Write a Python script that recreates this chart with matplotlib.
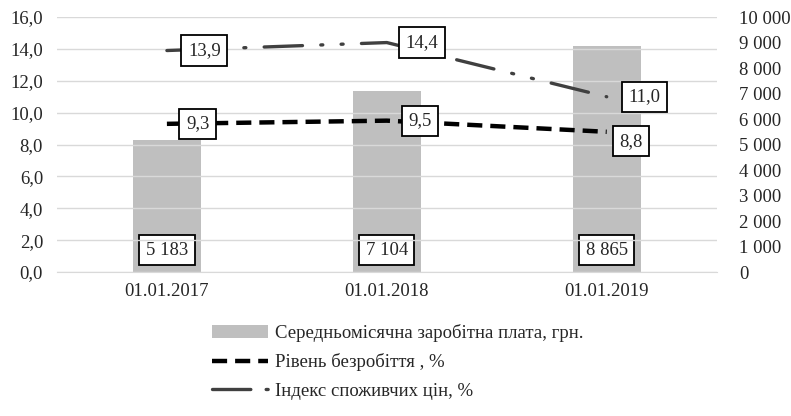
import matplotlib
matplotlib.use("Agg")
import matplotlib.pyplot as plt
from matplotlib.lines import Line2D
from matplotlib.ticker import FuncFormatter
import numpy as np

plt.rcParams["font.family"] = ["Liberation Serif", "DejaVu Serif"]

# ── Data ──────────────────────────────────────────────────────────────────────
dates = ["01.01.2017", "01.01.2018", "01.01.2019"]
wages = [5183, 7104, 8865]           # грн., right axis
unemployment = [9.3, 9.5, 8.8]       # %, left axis
cpi = [13.9, 14.4, 11.0]             # %, left axis

wage_label = "Середньомісячна заробітна плата, грн."
unemp_label = "Рівень безробіття , %"
cpi_label = "Індекс споживчих цін, %"

BAR_COLOR = "#bfbfbf"
CPI_COLOR = "#404040"
TEXT_COLOR = "#262626"
FS = 13.5

x = np.arange(len(dates))

fig = plt.figure(figsize=(7.91, 4.16), dpi=100)
ax = fig.add_axes([0.072, 0.346, 0.834, 0.613])
ax2 = ax.twinx()
ax.set_zorder(ax2.get_zorder() + 1)
ax.patch.set_visible(False)

# bars on the right axis
bars = ax2.bar(x, wages, width=0.31, color=BAR_COLOR, label=wage_label, zorder=2)
ax2.set_ylim(0, 10000)
ax2.set_yticks(np.arange(0, 10001, 1000))
ax2.yaxis.set_major_formatter(FuncFormatter(lambda v, p: f"{int(v):,}".replace(",", " ")))

box = dict(boxstyle="square,pad=0.35", fc="white", ec="black", lw=1.3)
for xi, w in zip(x, wages):
    ax2.text(xi, 850, f"{w:,}".replace(",", " "), ha="center", va="center",
             fontsize=FS, color=TEXT_COLOR, bbox=box, zorder=5)

# lines on the left axis
cpi_style = (0, (11.5, 5.5, 0.6, 5.5, 0.6, 5.5))
l_unemp, = ax.plot(x, unemployment, color="black", lw=3.2,
                   linestyle=(0, (3.4, 1.8)), label=unemp_label, zorder=3)
l_cpi, = ax.plot(x, cpi, color=CPI_COLOR, lw=2.4, linestyle=cpi_style,
                 solid_capstyle="round", dash_capstyle="round",
                 label=cpi_label, zorder=3)

label_offsets_cpi = [(0.17, 0.0), (0.16, 0.0), (0.17, 0.0)]
label_offsets_unemp = [(0.14, 0.0), (0.15, 0.0), (0.11, -0.6)]
for xi, v, (dx, dy) in zip(x, cpi, label_offsets_cpi):
    ax.text(xi + dx, v + dy, f"{v:.1f}".replace(".", ","), ha="center", va="center",
            fontsize=FS, color=TEXT_COLOR, bbox=box, zorder=6)
for xi, v, (dx, dy) in zip(x, unemployment, label_offsets_unemp):
    ax.text(xi + dx, v + dy, f"{v:.1f}".replace(".", ","), ha="center", va="center",
            fontsize=FS, color=TEXT_COLOR, bbox=box, zorder=6)

ax.set_ylim(0, 16)
ax.set_yticks(np.arange(0, 16.1, 2))
ax.yaxis.set_major_formatter(FuncFormatter(lambda v, p: f"{v:.1f}".replace(".", ",")))
ax.set_xlim(-0.5, 2.5)
ax.set_xticks(x)
ax.set_xticklabels(dates)
ax.grid(axis="y", color="#d9d9d9", lw=1.0)
ax.set_axisbelow(True)

for a in (ax, ax2):
    for s in a.spines.values():
        s.set_visible(False)
    a.tick_params(length=0, labelsize=FS, colors=TEXT_COLOR)
ax.spines["bottom"].set_visible(True)
ax.spines["bottom"].set_color("#d9d9d9")
ax.tick_params(axis="y", pad=10)
ax2.tick_params(axis="y", pad=16)
ax.tick_params(axis="x", pad=8)

# legend proxy so the short handle shows the dash and the dot
cpi_handle = Line2D([], [], color=CPI_COLOR, lw=2.4,
                    linestyle=(0, (11.5, 4.6, 0.6, 20)),
                    dash_capstyle="round", label=cpi_label)

fig.legend(handles=[bars, l_unemp, cpi_handle], loc="upper left",
           bbox_to_anchor=(0.268, 0.222), frameon=False, fontsize=FS,
           handlelength=3.0, handletextpad=0.35, labelspacing=0.62,
           borderpad=0, borderaxespad=0, labelcolor=TEXT_COLOR)

fig.savefig("out.png", dpi=100)
